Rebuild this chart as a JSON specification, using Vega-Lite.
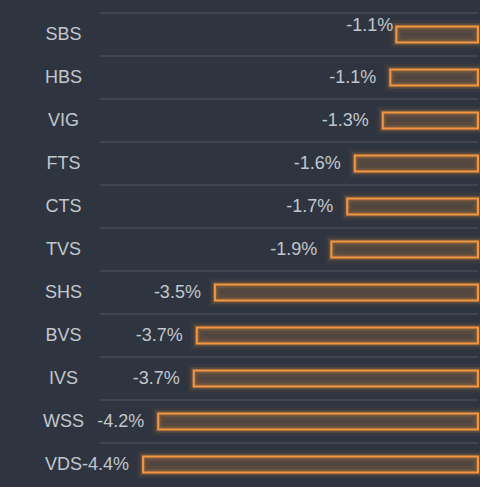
{
  "$schema": "https://vega.github.io/schema/vega-lite/v6.json",
  "autosize": {"type": "none"},
  "padding": {"top": 13, "left": 100, "right": 2, "bottom": 1},
  "width": 378,
  "height": 473,
  "background": "#2e3540",
  "config": {
    "view": {"stroke": null},
    "font": "Liberation Sans",
    "text": {"font": "Liberation Sans"}
  },
  "data": {
    "values": [
      {"name": "SBS", "value": -1.08, "label": "-1.1%"},
      {"name": "HBS", "value": -1.16, "label": "-1.1%"},
      {"name": "VIG", "value": -1.26, "label": "-1.3%"},
      {"name": "FTS", "value": -1.63, "label": "-1.6%"},
      {"name": "CTS", "value": -1.73, "label": "-1.7%"},
      {"name": "TVS", "value": -1.94, "label": "-1.9%"},
      {"name": "SHS", "value": -3.48, "label": "-3.5%"},
      {"name": "BVS", "value": -3.72, "label": "-3.7%"},
      {"name": "IVS", "value": -3.76, "label": "-3.7%"},
      {"name": "WSS", "value": -4.23, "label": "-4.2%"},
      {"name": "VDS", "value": -4.43, "label": "-4.4%"}
    ]
  },
  "encoding": {
    "y": {
      "field": "name",
      "type": "nominal",
      "sort": null,
      "scale": {"paddingInner": 0, "paddingOuter": 0},
      "axis": {
        "title": null,
        "domain": false,
        "ticks": false,
        "grid": false,
        "labelAlign": "center",
        "labelPadding": 37,
        "labelFontSize": 18,
        "labelColor": "#c3c7cc",
        "labelFont": "Liberation Sans"
      }
    }
  },
  "layer": [
    {
      "mark": {"type": "rule", "stroke": "#3f4651", "strokeWidth": 2},
      "encoding": {
        "y": {"field": "name", "type": "nominal", "sort": null, "bandPosition": 0}
      }
    },
    {
      "mark": {"type": "bar", "size": 16, "fill": null, "stroke": "#f0953e", "strokeWidth": 12, "strokeOpacity": 0.06},
      "encoding": {
        "x": {"field": "value", "type": "quantitative", "scale": {"domain": [-5, 0], "nice": false}, "axis": null}
      }
    },
    {
      "mark": {"type": "bar", "size": 16, "fill": null, "stroke": "#f0953e", "strokeWidth": 7, "strokeOpacity": 0.1},
      "encoding": {
        "x": {"field": "value", "type": "quantitative", "scale": {"domain": [-5, 0], "nice": false}, "axis": null}
      }
    },
    {
      "mark": {"type": "bar", "size": 16, "fill": null, "stroke": "#f0953e", "strokeWidth": 4, "strokeOpacity": 0.2},
      "encoding": {
        "x": {"field": "value", "type": "quantitative", "scale": {"domain": [-5, 0], "nice": false}, "axis": null}
      }
    },
    {
      "mark": {"type": "bar", "size": 16, "fill": "#f0953e", "fillOpacity": 0.18, "stroke": "#f4963f", "strokeWidth": 2},
      "encoding": {
        "x": {"field": "value", "type": "quantitative", "scale": {"domain": [-5, 0], "nice": false}, "axis": null}
      }
    },
    {
      "transform": [{"filter": "datum.name !== 'SBS'"}],
      "mark": {"type": "text", "align": "right", "baseline": "middle", "dx": -14, "fontSize": 18, "color": "#c3c7cc"},
      "encoding": {
        "x": {"field": "value", "type": "quantitative", "scale": {"domain": [-5, 0], "nice": false}, "axis": null},
        "text": {"field": "label"}
      }
    },
    {
      "transform": [{"filter": "datum.name === 'SBS'"}],
      "mark": {"type": "text", "align": "right", "baseline": "middle", "dx": -3, "dy": -9, "fontSize": 18, "color": "#c3c7cc"},
      "encoding": {
        "x": {"field": "value", "type": "quantitative", "scale": {"domain": [-5, 0], "nice": false}, "axis": null},
        "text": {"field": "label"}
      }
    }
  ]
}
